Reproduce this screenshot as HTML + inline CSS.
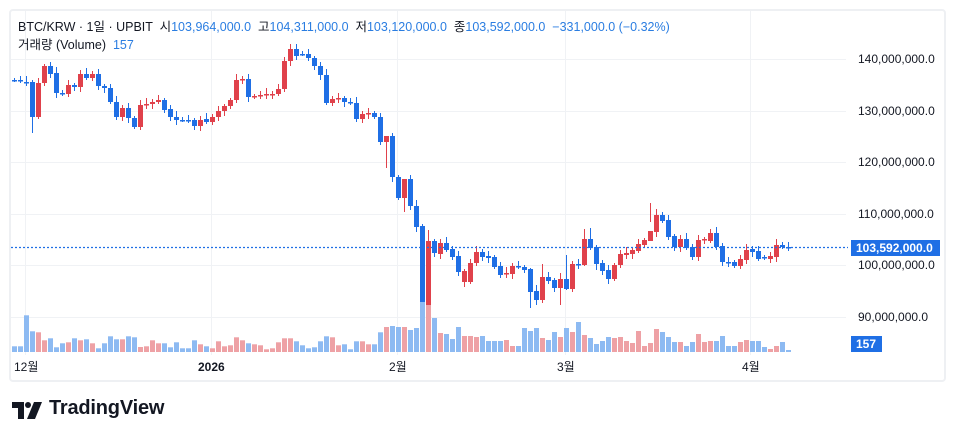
<!DOCTYPE html>
<html><head><meta charset="utf-8">
<style>
html,body{margin:0;padding:0;background:#fff;width:954px;height:440px;overflow:hidden}
body{font-family:"Liberation Sans","Noto Sans CJK KR",sans-serif;position:relative}
.panel{position:absolute;left:9px;top:9px;width:933px;height:369px;border:2px solid #eef0f3;border-radius:4px}
.hdr{position:absolute;left:18px;top:16px;font-size:12.5px;color:#131722;white-space:nowrap}
.hdr b{font-weight:normal;color:#2a7de1}
.hdr2{position:absolute;left:18px;top:34px;font-size:12.5px;color:#131722}
.hdr2 b{font-weight:normal;color:#2a7de1}
.logo{position:absolute;left:49px;top:397px;font-size:20px;font-weight:bold;color:#131722;letter-spacing:-0.2px}
</style></head><body>
<div class="panel"></div>
<svg id="c" width="954" height="440" style="position:absolute;left:0;top:0"></svg>
<div class="hdr">BTC/KRW · 1일 · UPBIT &nbsp;시<b>103,964,000.0</b>&nbsp; 고<b>104,311,000.0</b>&nbsp; 저<b>103,120,000.0</b>&nbsp; 종<b>103,592,000.0</b>&nbsp; <b>−331,000.0 (−0.32%)</b></div>
<div class="hdr2">거래량 (Volume)&nbsp; <b>157</b></div>
<svg width="30" height="17" style="position:absolute;left:12px;top:402px" viewBox="0 0 30 17"><path d="M0 0H12V17H6V6H0Z" fill="#131722"/><circle cx="16" cy="3" r="3" fill="#131722"/><path d="M22 0H30L23 17H15Z" fill="#131722"/></svg>
<div class="logo">TradingView</div>
<script>
(function(){
var pre=[[80,80],[80,80],[82,82],[82,117],[117,83],[83,66],[66,74],[73,93],[93,94],[94,85],[85,87],[87,74],[74,78],[78,74],[74,86],[86,88],[88,102],[102,117],[117,108],[108,118],[118,127],[127,105],[105,104],[104,102],[102,100],[100,110],[109,117],[117,120],[120,120],[120,120],[120,126],[126,120],[119,122],[122,117],[117,111],[111,106],[106,100],[100,80],[80,79],[79,97],[97,96],[96,95],[95,94],[94,94],[94,89],[89,61],[61,49],[49,56],[54,54],[54,58],[58,66],[66,75],[75,103],[103,99],[99,98],[98,102],[102,103],[103,119],[119,114],[114,113],[113,117],[117,142]];
var post=[[142,136],[136,177],[177,198],[198,179],[179,206],[206,227],[226,304],[305,241],[241,253],[254,243],[243,250],[249,257],[256,272],[282,271],[282,263],[263,252],[252,257],[256,258],[257,267],[266,275],[274,273],[274,266],[266,267],[267,270],[269,292],[291,300],[300,277],[277,281],[280,288],[288,279],[279,289],[289,264],[264,265],[265,239],[239,248],[247,264],[263,271],[270,279],[279,265],[265,254],[255,253],[254,250],[251,244],[245,240],[241,231],[232,215],[215,221],[220,237],[236,247],[247,239],[239,248],[247,257],[257,240],[239,239],[241,233],[233,247],[246,262],[262,262],[262,266],[266,259],[260,250],[249,252],[251,259],[257,257],[259,256],[257,245],[245,247],[247,248]];
var all=pre.concat(post);
var idx380=pre.length-1;
var vpre=[5.7,5.7,36.7,20.7,19.7,11.7,13.7,4.7,8.7,9.7,13.7,11.7,12.7,8.7,3.7,8.7,15.7,12.7,12.7,15.7,14.7,5,5.7,11.7,8.7,8.7,4.7,9.7,3.7,3.7,11.7,7.7,5.7,3.7,10.7,5.7,6.7,14.7,11.7,8.7,7.7,6.7,2.7,3.7,9.7,13.7,13.7,10.7,6.7,3.7,4.7,10.7,15.7,14.7,6.7,7.7,2.7,10.7,10.7,7.7,7.7,19.7];
var vpost=[25,26,25,25,22,24,50,47,34,19,18,13,25,16,16,15,16,11,11,11,12,6,6,24,21,24,14,12,20,15,24,20,30,17,14,8,11,15,14,15,11,9,21,6,9,23,20,15,10,10,6,10,18,10,11,11,16,6,6,10,12,11,11,5,3,6,10,2];
var vol=vpre.concat(vpost);
var wick={3:[80,133],62:[140,168],64:[175,200],65:[195,212],68:[224,315],69:[230,323],45:[57,92],46:[44,66],47:[44,60],21:[100,130],36:[98,109],
86:[268,308],88:[264,303],91:[273,305],92:[255,290],95:[229,266],96:[228,250],97:[245,270],106:[203,222]};
var s='';
function R(x,y,w,h,c){return '<rect x="'+x+'" y="'+y+'" width="'+w+'" height="'+h+'" fill="'+c+'"/>';}
var gl=[59,111,162,214,265,317];
gl.forEach(function(y){s+=R(11,y,835,1,'#f0f2f5');});
[25,211,397,565,750].forEach(function(x){s+=R(x,11,1,344,'#f0f2f5');});
var RED='#e0414b',BLUE='#1f6fe5',VR='#eea1a5',VB='#8dbaf2';
var prevUp=false;
for(var i=0;i<all.length;i++){
  var x=Math.round(380+(i-idx380)*6.0);
  var o=all[i][0],c=all[i][1];
  var up = c<o ? true : (c>o?false:prevUp);
  prevUp=up;
  var col=up?RED:BLUE;
  var bt=Math.min(o,c),bb=Math.max(o,c);
  var bh=Math.max(bb-bt,1.5);
  var wk=wick[i]||[bt-(2+(i*7)%5),bb+(2+(i*5)%4)];
  s+=R(x,wk[0],1,wk[1]-wk[0],col);
  s+=R(x-2,bt,5,bh,col);
  var v=vol[i]||3;
  s+=R(x-2,352-v,5,v,up?VR:VB);
}
s+='<line x1="11" y1="247.5" x2="848" y2="247.5" stroke="#1f6fe5" stroke-width="1.2" stroke-dasharray="2,2"/>';
var labs=[['140,000,000.0',59],['130,000,000.0',111],['120,000,000.0',162],['110,000,000.0',214],['100,000,000.0',265],['90,000,000.0',317]];
labs.forEach(function(l){s+='<text x="858" y="'+(l[1]+4)+'" font-size="12" fill="#131722" font-family="Liberation Sans, sans-serif">'+l[0]+'</text>';});
s+=R(851,240,89,16,'#1f6fe5');
s+='<text x="856" y="252" font-size="12" font-weight="bold" fill="#fff" font-family="Liberation Sans, sans-serif">103,592,000.0</text>';
s+=R(851,336,31,16,'#1f6fe5');
s+='<text x="856" y="348" font-size="12" font-weight="bold" fill="#fff" font-family="Liberation Sans, sans-serif">157</text>';
var tl=[['12월',14,'normal'],['2026',198,'bold'],['2월',389,'normal'],['3월',557,'normal'],['4월',742,'normal']];
tl.forEach(function(t){s+='<text x="'+t[1]+'" y="371" font-size="12" font-weight="'+t[2]+'" fill="#131722" font-family="Liberation Sans, Noto Sans CJK KR, sans-serif">'+t[0]+'</text>';});
document.getElementById('c').innerHTML=s;
})();
</script>
</body></html>
